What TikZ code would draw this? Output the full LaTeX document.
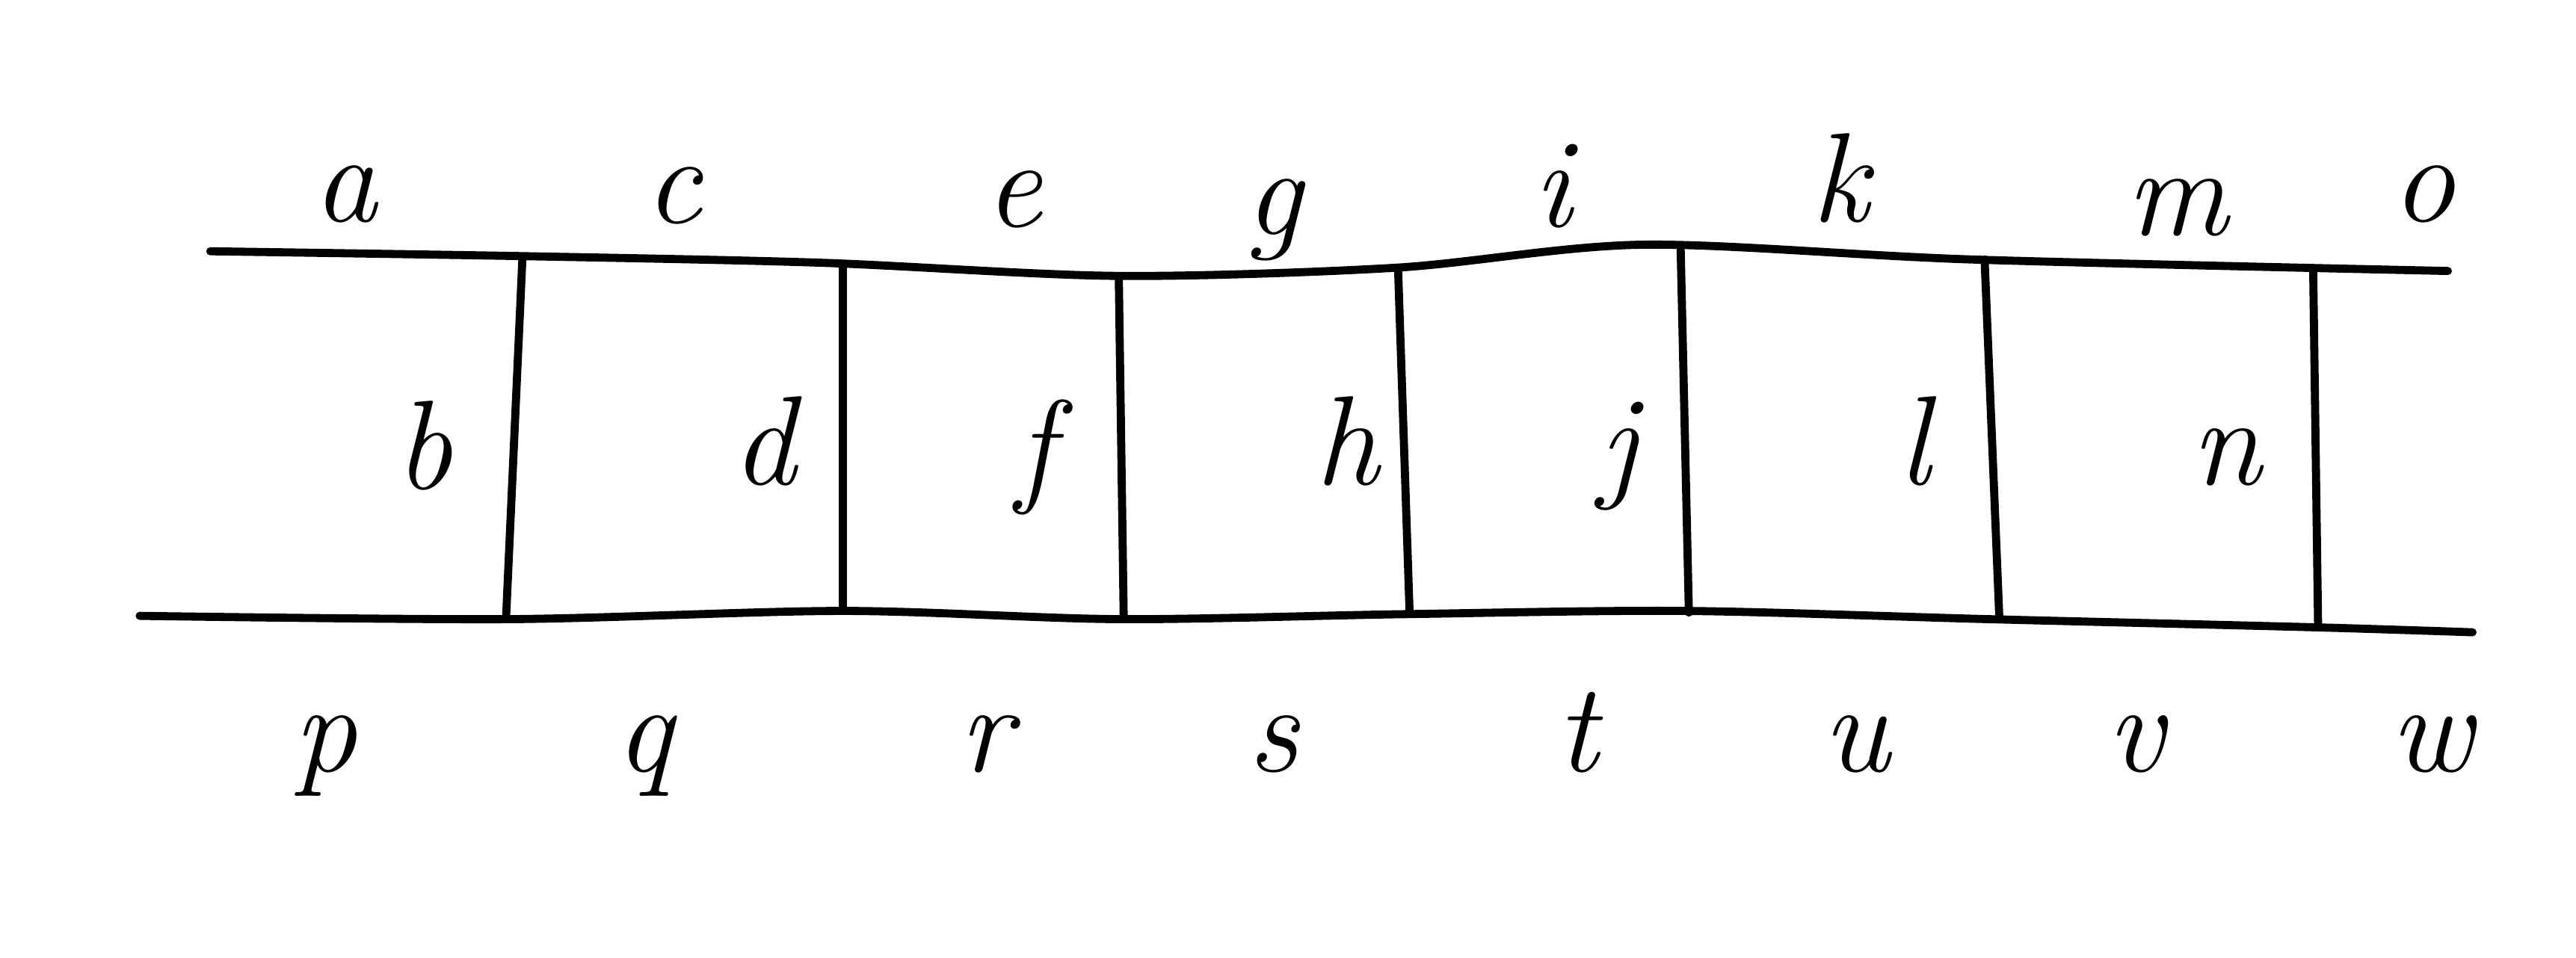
\documentclass[tikz,border=0pt]{standalone}
\begin{document}
\begin{tikzpicture}[
	rail/.style={draw=black, line width=1.4pt, line cap=round, line join=round},
	rung/.style={draw=black, line width=1.4pt, line cap=round},
	lbl/.style={black, anchor=base, inner sep=0pt, font=\fontsize{22}{26}\selectfont\itshape}]
	\useasboundingbox (0,0) rectangle (15.68,5.83);
	% rails
	\draw[rail] plot[smooth, tension=0.5] coordinates {(1.28,4.30) (3.20,4.27) (5.00,4.23) (6.80,4.15) (8.50,4.20) (10.00,4.34) (12.00,4.25) (14.90,4.18)};
	\draw[rail] plot[smooth, tension=0.5] coordinates {(0.85,2.08) (3.10,2.06) (5.13,2.11) (6.81,2.06) (8.53,2.09) (10.25,2.11) (12.10,2.06) (14.10,2.01) (15.05,1.98)};
	% rung ends
	\coordinate (t1) at (3.18,4.26); \coordinate (b1) at (3.08,2.06);
	\coordinate (t2) at (5.13,4.20); \coordinate (b2) at (5.13,2.12);
	\coordinate (t3) at (6.81,4.14); \coordinate (b3) at (6.84,2.06);
	\coordinate (t4) at (8.51,4.19); \coordinate (b4) at (8.58,2.10);
	\coordinate (t5) at (10.23,4.31); \coordinate (b5) at (10.28,2.10);
	\coordinate (t6) at (12.08,4.25); \coordinate (b6) at (12.17,2.06);
	\coordinate (t7) at (14.08,4.19); \coordinate (b7) at (14.11,2.01);
	\draw[rung] (t1) -- (b1);
	\draw[rung] (t2) -- (b2);
	\draw[rung] (t3) -- (b3);
	\draw[rung] (t4) -- (b4);
	\draw[rung] (t5) -- (b5);
	\draw[rung] (t6) -- (b6);
	\draw[rung] (t7) -- (b7);
	% top labels
	\node[lbl] (a) at (2.10,4.48) {a};
	\node[lbl] (c) at (4.10,4.47) {c};
	\node[lbl] (e) at (6.17,4.45) {e};
	\node[lbl] (g) at (7.75,4.40) {g};
	\node[lbl] (i) at (9.45,4.45) {i};
	\node[lbl] (k) at (11.20,4.48) {k};
	\node[lbl] (m) at (13.25,4.40) {m};
	\node[lbl] (o) at (14.75,4.48) {o};
	% middle labels
	\node[lbl] (b) at (2.58,2.85) {b};
	\node[lbl] (d) at (4.65,2.88) {d};
	\node[lbl] (f) at (6.30,2.85) {f};
	\node[lbl] (h) at (8.20,2.88) {h};
	\node[lbl] (j) at (9.85,2.88) {j};
	\node[lbl] (l) at (11.65,2.88) {l};
	\node[lbl] (n) at (13.55,2.88) {n};
	% bottom labels
	\node[lbl] (p) at (1.98,1.13) {p};
	\node[lbl] (q) at (3.92,1.13) {q};
	\node[lbl] (r) at (6.00,1.13) {r};
	\node[lbl] (s) at (7.75,1.13) {s};
	\node[lbl] (t) at (9.60,1.13) {t};
	\node[lbl] (u) at (11.30,1.13) {u};
	\node[lbl] (v) at (13.00,1.13) {v};
	\node[lbl] (w) at (14.80,1.13) {w};
\end{tikzpicture}
\end{document}
